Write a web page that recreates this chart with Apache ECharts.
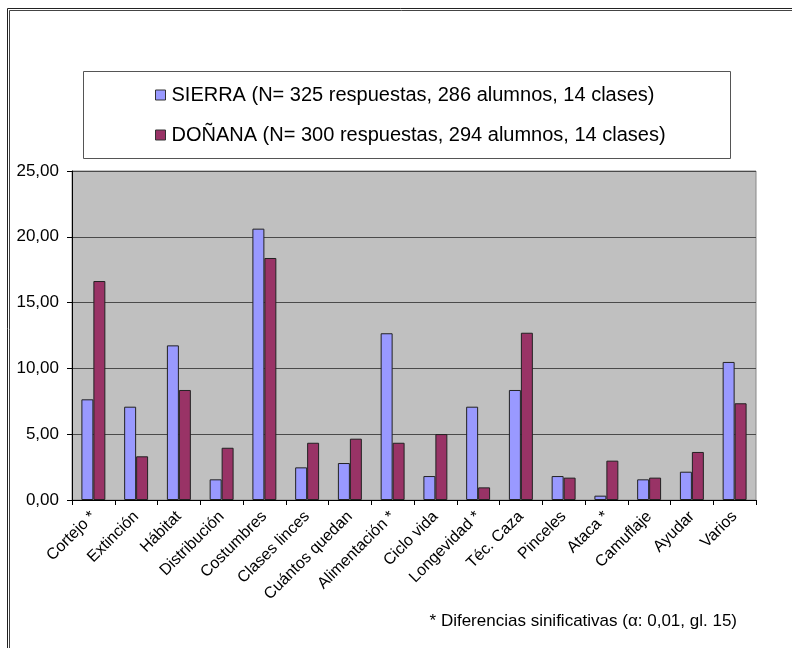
<!DOCTYPE html>
<html>
<head>
<meta charset="utf-8">
<script src="https://cdn.jsdelivr.net/npm/echarts@6/dist/echarts.min.js"></script>
<style>
html,body{margin:0;padding:0;background:#fff;}
#c{width:792px;height:648px;}
</style>
</head>
<body>
<div id="c"></div>
<script>
const categories = ['Cortejo *','Extinción','Hábitat','Distribución','Costumbres','Clases linces','Cuántos quedan','Alimentación *','Ciclo vida','Longevidad *','Téc. Caza','Pinceles','Ataca *','Camuflaje','Ayudar','Varios'];
const sierra = [7.65, 7.09, 11.75, 1.57, 20.62, 2.48, 2.81, 12.67, 1.82, 7.09, 8.36, 1.82, 0.33, 1.57, 2.15, 10.49];
const donana = [16.64, 3.32, 8.36, 3.97, 18.39, 4.35, 4.66, 4.35, 5.01, 0.96, 12.71, 1.70, 2.99, 1.70, 3.65, 7.35];
const seriesNames = ['SIERRA (N= 325 respuestas, 286 alumnos, 14 clases)', 'DOÑANA (N= 300 respuestas, 294 alumnos, 14 clases)'];
const yTicks = {min: 0, max: 25, interval: 5};
const footnote = '* Diferencias sinificativas (α: 0,01, gl. 15)';

const FONT = '"Liberation Sans", Arial, sans-serif';
const chart = echarts.init(document.getElementById('c'));
chart.setOption({
  animation: false,
  backgroundColor: '#fff',
  textStyle: {fontFamily: FONT, color: '#000'},
  graphic: [
    {type: 'rect', shape: {x: 7.5, y: 8.5, width: 900, height: 900}, style: {fill: 'none', stroke: '#222', lineWidth: 1}},
    {type: 'rect', shape: {x: 9.5, y: 10.5, width: 900, height: 900}, style: {fill: 'none', stroke: '#444', lineWidth: 1}},
    {type: 'rect', shape: {x: 83.5, y: 71.5, width: 647, height: 87}, style: {fill: '#fff', stroke: '#555', lineWidth: 1}, z: 0},
    {type: 'text', right: 55, top: 613, style: {text: footnote, font: '17px ' + FONT, fill: '#000'}}
  ],
  legend: {
    orient: 'vertical',
    left: 155,
    top: 84,
    padding: 0,
    itemWidth: 10,
    itemHeight: 10,
    itemGap: 18,
    textStyle: {fontSize: 20, fontFamily: FONT, color: '#000', lineHeight: 22, padding: [0, 0, 0, 1]},
    z: 5,
    data: [
      {name: seriesNames[0], icon: 'rect', itemStyle: {borderColor: '#333', borderWidth: 1}},
      {name: seriesNames[1], icon: 'rect', itemStyle: {borderColor: '#333', borderWidth: 1}}
    ]
  },
  grid: {left: 72, right: 36, top: 171, bottom: 148, show: true, backgroundColor: '#C0C0C0', borderColor: '#888', borderWidth: 1},
  xAxis: {
    type: 'category',
    data: categories,
    axisLine: {lineStyle: {color: '#000', width: 1}},
    axisTick: {show: true, interval: 0, length: 5, lineStyle: {color: '#000'}},
    axisLabel: {interval: 0, rotate: 45, fontSize: 16, color: '#000', margin: 14, fontFamily: FONT}
  },
  yAxis: {
    type: 'value',
    min: yTicks.min, max: yTicks.max, interval: yTicks.interval,
    axisLine: {show: true, lineStyle: {color: '#000', width: 1}},
    axisTick: {show: true, length: 5, lineStyle: {color: '#000'}},
    axisLabel: {fontSize: 17, color: '#000', margin: 13, fontFamily: FONT, formatter: v => v.toFixed(2).replace('.', ',')},
    splitLine: {lineStyle: {color: '#4a4a4a', width: 1}}
  },
  series: [
    {name: seriesNames[0], type: 'bar', data: sierra, barGap: '0%', barCategoryGap: '44%',
     itemStyle: {color: '#9999FF', borderColor: '#222', borderWidth: 1}},
    {name: seriesNames[1], type: 'bar', data: donana, barGap: '0%', barCategoryGap: '44%',
     itemStyle: {color: '#993366', borderColor: '#222', borderWidth: 1}}
  ]
});
</script>
</body>
</html>
